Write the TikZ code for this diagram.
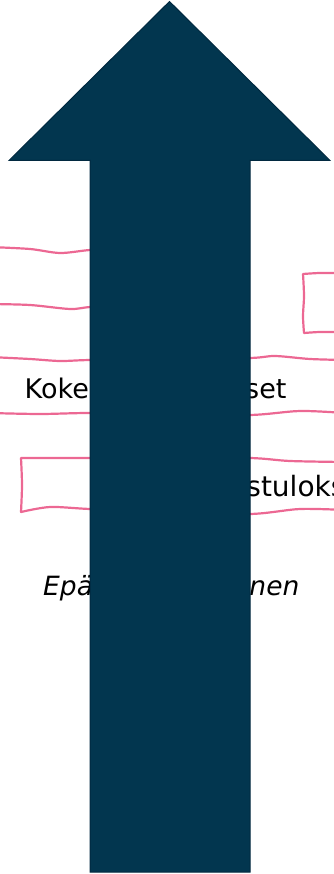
\documentclass[tikz,border=0pt]{standalone}
\usepackage{fontspec}
\setmainfont{DejaVu Sans}
\definecolor{arrowfill}{HTML}{02364F}
\definecolor{arrowline}{HTML}{012940}
\definecolor{pinkline}{RGB}{236,104,147}
\begin{document}
\begin{tikzpicture}[x=1pt,y=-1pt,
  sketch/.style={draw=pinkline, line width=2.2pt, line join=round, line cap=round},
  lbl/.style={inner sep=0pt, anchor=base west, text=black},
  bigarrow/.style={fill=arrowfill, draw=arrowline, line width=1pt, line join=miter}]
\useasboundingbox (0,0) rectangle (333,874);
% sketchy boxes behind the arrow
\draw[sketch] plot[smooth] coordinates {(-10,247) (30,249) (60,253) (90,250) (120,249)}
  -- (121,306)
  -- plot[smooth] coordinates {(121,306) (90,307) (70,309) (30,305) (-10,304)} -- cycle;
\draw[sketch] plot[smooth] coordinates {(-10,357) (30,359) (60,361) (90,360) (170,359) (250,358) (275,356) (310,359) (345,360)}
  -- (345,413)
  -- plot[smooth] coordinates {(345,413) (300,411) (250,415) (170,414) (90,413) (40,414) (-10,413)} -- cycle;
\draw[sketch] plot[smooth] coordinates {(345,273) (320,273) (303,274)}
  -- plot[smooth] coordinates {(303,274) (304,296) (303,316) (304,333)}
  -- plot[smooth] coordinates {(304,333) (320,332) (345,332)} -- cycle;
\draw[sketch] plot[smooth] coordinates {(21,458) (90,458) (170,458) (250,458) (290,461) (345,462)}
  -- (345,510)
  -- plot[smooth] coordinates {(345,510) (300,509) (250,514) (170,512) (90,509) (50,507) (21,512)}
  -- plot[smooth] coordinates {(21,512) (22,485) (21,458)};
% labels
\node[lbl, font=\fontsize{27}{31}\selectfont] (koke) at (24.5,398) {Kokeelliset tulokset};
\node[lbl, font=\fontsize{28}{32}\selectfont] (tutk) at (135.6,496) {Tutkimustulokset};
\node[lbl, font=\fontsize{26.5}{30}\selectfont\itshape] (epa) at (43,595) {Epäsystemaattinen};
% big arrow
\draw[bigarrow] (169.5,1.5) -- (330,160.5) -- (250,160.5) -- (250,872) -- (90,872) -- (90,160.5) -- (9,160.5) -- cycle;
\end{tikzpicture}
\end{document}
